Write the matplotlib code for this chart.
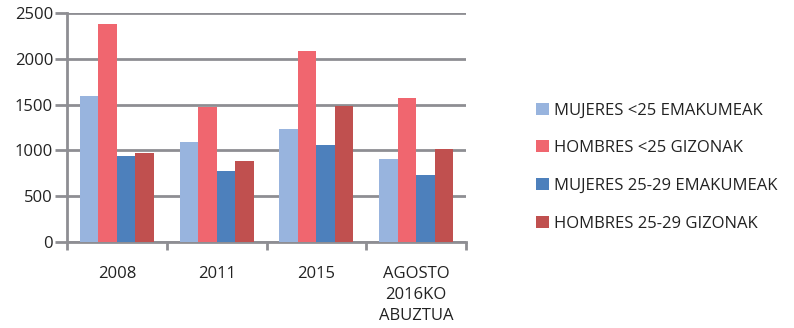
import matplotlib
matplotlib.use("Agg")
import matplotlib.pyplot as plt
import numpy as np

categories = ["2008", "2011", "2015", "AGOSTO\n2016KO\nABUZTUA"]
series_names = ["MUJERES <25 EMAKUMEAK", "HOMBRES <25 GIZONAK",
                "MUJERES 25-29 EMAKUMEAK", "HOMBRES 25-29 GIZONAK"]
mujeres_lt25 = [1596, 1093, 1235, 907]
hombres_lt25 = [2383, 1476, 2088, 1574]
mujeres_25_29 = [940, 776, 1060, 733]
hombres_25_29 = [973, 886, 1487, 1017]
values = [mujeres_lt25, hombres_lt25, mujeres_25_29, hombres_25_29]
colors = ["#98B4DE", "#F0666F", "#4D80BC", "#C0504F"]

plt.rcParams['font.family'] = ['Open Sans', 'DejaVu Sans']
fig = plt.figure(figsize=(7.94, 3.28), dpi=100)
ax = fig.add_axes([67/794, 1 - 242/328, (466-67)/794, (242-13)/328])

x = np.arange(len(categories))
bw = 0.185
for i, (vals, c, name) in enumerate(zip(values, colors, series_names)):
    ax.bar(x + (i - 1.5) * bw, vals, width=bw, color=c, label=name, zorder=3)

ax.set_xlim(-0.5, len(categories) - 0.5)
ax.set_ylim(0, 2500)
ax.set_yticks([0, 500, 1000, 1500, 2000, 2500])
ax.yaxis.grid(True, color="#8E8E93", linewidth=2, zorder=0)
ax.tick_params(axis='y', length=9, width=2, color="#8E8E93", labelsize=12, pad=1, labelcolor="#222222")
ax.set_xticks(np.arange(len(categories) + 1) - 0.5, minor=False)
ax.set_xticklabels([])
ax.set_xticks(x, minor=True)
ax.set_xticklabels(categories, minor=True, fontsize=12, color="#222222", linespacing=1.45, va='top')
ax.tick_params(axis='x', which='major', length=6, width=2, color="#8E8E93")
ax.tick_params(axis='x', which='minor', length=0, pad=17)
for s in ["top", "right"]:
    ax.spines[s].set_visible(False)
ax.spines["left"].set_color("#8E8E93")
ax.spines["left"].set_linewidth(2)
ax.spines["bottom"].set_color("#8E8E93")
ax.spines["bottom"].set_linewidth(2)

leg = fig.legend(loc="center left", bbox_to_anchor=(521/794, 1 - 167/328), frameon=False,
                 fontsize=12, handlelength=0.75, handleheight=0.75, handletextpad=0.35,
                 labelspacing=1.3)
for t in leg.get_texts():
    t.set_color("#222222")

fig.savefig("out.png", dpi=100)
